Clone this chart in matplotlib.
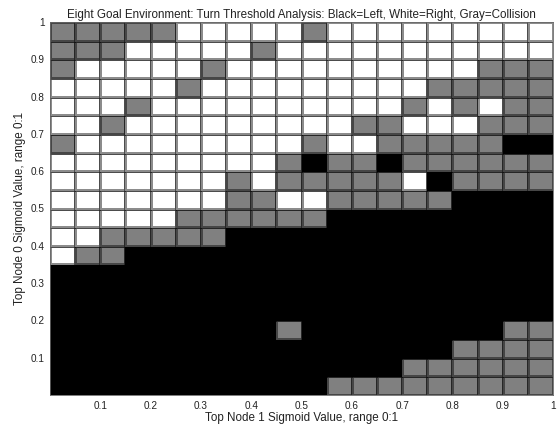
import numpy as np
import matplotlib
matplotlib.use("Agg")
import matplotlib.pyplot as plt
from matplotlib.colors import ListedColormap

plt.rcParams['font.family'] = ['Liberation Sans', 'DejaVu Sans']

# W = Right (white), G = Collision (gray), B = Left (black)
# rows listed from top (y 0.95-1.0) down to bottom (y 0.0-0.05); 20 columns x 0..1
rows_top_down = [
    "GGGGGWWWWWGWWWWWWWWW",
    "GGGWWWWWGWWWWWWWWWWW",
    "GWWWWWGWWWWWWWWWWGGG",
    "WWWWWGWWWWWWWWWGGGGG",
    "WWWGWWWWWWWWWWGWGWGG",
    "WWGWWWWWWWWWGGWWWGGG",
    "GWWWWWWWWWGWWGGGGGBB",
    "WWWWWWWWWGBGGBGGGGGG",
    "WWWWWWWGWGGGGGWBGGGG",
    "WWWWWWWGGWWGGGGGBBBB",
    "WWWWWGGGGGGBBBBBBBBB",
    "WWGGGGGBBBBBBBBBBBBB",
    "WGGBBBBBBBBBBBBBBBBB",
    "BBBBBBBBBBBBBBBBBBBB",
    "BBBBBBBBBBBBBBBBBBBB",
    "BBBBBBBBBBBBBBBBBBBB",
    "BBBBBBBBBGBBBBBBBBGG",
    "BBBBBBBBBBBBBBBBGGGG",
    "BBBBBBBBBBBBBBGGGGGG",
    "BBBBBBBBBBBGGGGGGGGG",
]
state_code = {"W": 0, "G": 1, "B": 2}
x_edges = np.linspace(0, 1, 21)
y_edges = np.linspace(0, 1, 21)
x_ticks = [0.1, 0.2, 0.3, 0.4, 0.5, 0.6, 0.7, 0.8, 0.9, 1]
y_ticks = [0.1, 0.2, 0.3, 0.4, 0.5, 0.6, 0.7, 0.8, 0.9, 1]
x_ticklabels = ["0.1", "0.2", "0.3", "0.4", "0.5", "0.6", "0.7", "0.8", "0.9", "1"]
y_ticklabels = ["0.1", "0.2", "0.3", "0.4", "0.5", "0.6", "0.7", "0.8", "0.9", "1"]

Z = np.array([[state_code[c] for c in r] for r in rows_top_down[::-1]])

fig = plt.figure(figsize=(5.58, 4.30), dpi=100)
ax = fig.add_axes([50/558, 1-395/430, 503/558, 373/430])
cmap = ListedColormap(["#ffffff", "#808080", "#000000"])
ax.pcolormesh(x_edges, y_edges, Z, cmap=cmap, vmin=-0.5, vmax=2.5,
              edgecolors=(0, 0, 0, 0.45), linewidth=0.75)
ax.set_xlim(0, 1)
ax.set_ylim(0, 1)
ax.set_xticks(x_ticks)
ax.set_xticklabels(x_ticklabels)
ax.set_yticks(y_ticks)
ax.set_yticklabels(y_ticklabels)
ax.tick_params(direction="in", length=0, labelsize=7.2, colors="#222222", pad=4)
for s in ax.spines.values():
    s.set_linewidth(0.6)
    s.set_color("#666666")
ax.set_title("Eight Goal Environment: Turn Threshold Analysis: Black=Left, White=Right, Gray=Collision",
             fontsize=8.4, pad=3, color="#222222")
ax.set_xlabel("Top Node 1 Sigmoid Value, range 0:1", fontsize=8.4, labelpad=1, color="#222222")
ax.set_ylabel("Top Node 0 Sigmoid Value, range 0:1", fontsize=8.4, labelpad=3, color="#222222")
fig.savefig("out.png", dpi=100)
